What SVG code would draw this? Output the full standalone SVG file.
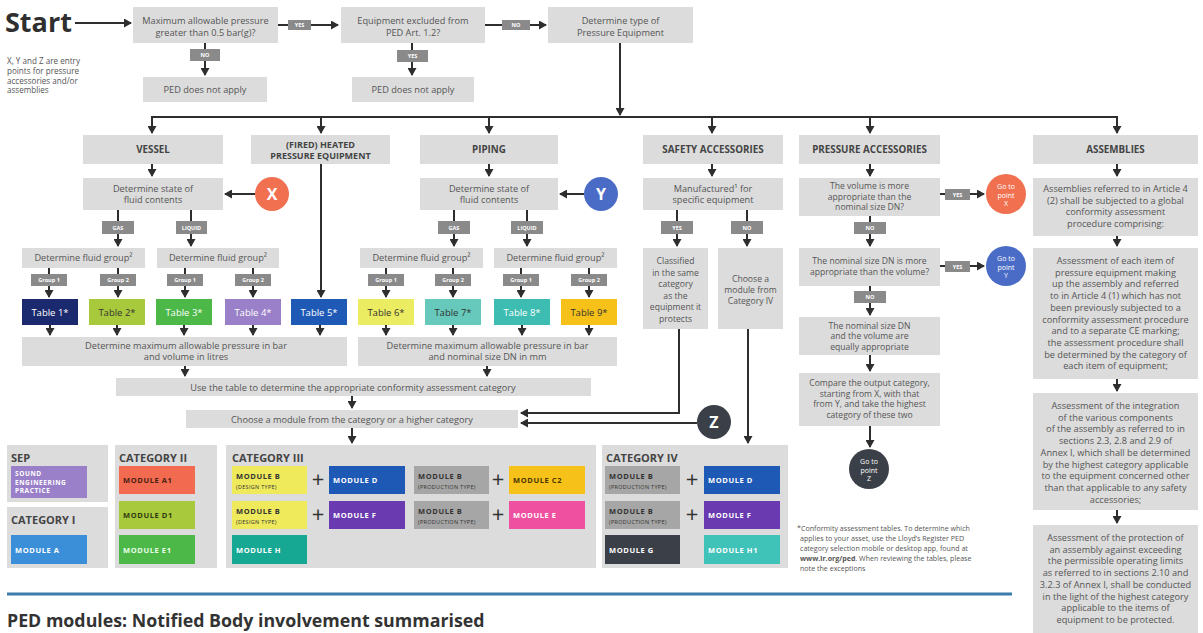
<svg xmlns="http://www.w3.org/2000/svg" width="1203" height="633" viewBox="0 0 1203 633">
<style>
text{font-family:"Open Sans","Liberation Sans",sans-serif}
.bx{fill:#dcdcdc}
.t{font-size:9.2px;fill:#555;text-anchor:middle}
.ts{font-size:8.6px;fill:#555;text-anchor:middle}
.h{font-size:9.8px;fill:#444;font-weight:bold;text-anchor:middle}
.lb{fill:#8a8a8a}
.lt{font-size:5.5px;fill:#fff;text-anchor:middle;font-weight:bold}
.tb{font-size:9.5px;text-anchor:middle}
.ln{stroke:#2e2e2e;stroke-width:2;fill:none}
.ar{stroke:#2e2e2e;stroke-width:2;fill:none;marker-end:url(#ah)}
.cat{font-size:11px;font-weight:bold;fill:#444}
.m{font-size:7.5px;font-weight:bold;letter-spacing:0.6px}
.ms{font-size:5.5px;letter-spacing:0.3px}
.pl{font-size:22px;fill:#333;text-anchor:middle}
.ct{font-size:16px;font-weight:bold;fill:#fff;text-anchor:middle}
.gt{font-size:7px;fill:#fff;text-anchor:middle}
.fn{font-size:7.1px;fill:#555}
</style>
<defs>
<marker id="ah" markerUnits="userSpaceOnUse" markerWidth="9" markerHeight="9" refX="7" refY="4.5" orient="auto">
<path d="M0,0 L8,4.5 L0,9 Z" fill="#2e2e2e"/>
</marker>
</defs>

<!-- connectors -->
<g id="connectors">
<line class="ar" x1="75" y1="23" x2="131" y2="23"/>
<line class="ar" x1="277" y1="25" x2="338" y2="25"/>
<line class="ar" x1="485" y1="25" x2="546" y2="25"/>
<line class="ar" x1="205" y1="43" x2="205" y2="75"/>
<line class="ar" x1="412" y1="43" x2="412" y2="75"/>
<line class="ar" x1="620" y1="43" x2="620" y2="115"/>
<line class="ln" x1="151" y1="117" x2="1118" y2="117"/>
<line class="ar" x1="152" y1="117" x2="152" y2="133"/>
<line class="ar" x1="321" y1="117" x2="321" y2="133"/>
<line class="ar" x1="489" y1="117" x2="489" y2="133"/>
<line class="ar" x1="712" y1="117" x2="712" y2="133"/>
<line class="ar" x1="870" y1="117" x2="870" y2="133"/>
<line class="ar" x1="1117" y1="117" x2="1117" y2="133"/>
<!-- vessel -->
<line class="ar" x1="152" y1="164" x2="152" y2="176"/>
<line class="ar" x1="255" y1="194" x2="225" y2="194"/>
<line class="ar" x1="118" y1="210" x2="118" y2="246"/>
<line class="ar" x1="191" y1="210" x2="191" y2="246"/>
<line class="ar" x1="49" y1="268" x2="49" y2="297"/>
<line class="ar" x1="118" y1="268" x2="118" y2="297"/>
<line class="ar" x1="185" y1="268" x2="185" y2="297"/>
<line class="ar" x1="253" y1="268" x2="253" y2="297"/>
<line class="ar" x1="321" y1="164" x2="321" y2="297"/>
<line class="ar" x1="50" y1="325" x2="50" y2="335"/>
<line class="ar" x1="117" y1="325" x2="117" y2="335"/>
<line class="ar" x1="184" y1="325" x2="184" y2="335"/>
<line class="ar" x1="253" y1="325" x2="253" y2="335"/>
<line class="ar" x1="320" y1="325" x2="320" y2="335"/>
<!-- piping -->
<line class="ar" x1="489" y1="164" x2="489" y2="176"/>
<line class="ar" x1="584" y1="194" x2="560" y2="194"/>
<line class="ar" x1="454" y1="210" x2="454" y2="246"/>
<line class="ar" x1="527" y1="210" x2="527" y2="246"/>
<line class="ar" x1="386" y1="268" x2="386" y2="297"/>
<line class="ar" x1="453" y1="268" x2="453" y2="297"/>
<line class="ar" x1="521" y1="268" x2="521" y2="297"/>
<line class="ar" x1="589" y1="268" x2="589" y2="297"/>
<line class="ar" x1="386" y1="325" x2="386" y2="335"/>
<line class="ar" x1="453" y1="325" x2="453" y2="335"/>
<line class="ar" x1="522" y1="325" x2="522" y2="335"/>
<line class="ar" x1="589" y1="325" x2="589" y2="335"/>
<line class="ar" x1="185" y1="366" x2="185" y2="376"/>
<line class="ar" x1="487" y1="366" x2="487" y2="376"/>
<line class="ar" x1="352" y1="396" x2="352" y2="408"/>
<line class="ar" x1="352" y1="428" x2="352" y2="443"/>
<!-- safety -->
<line class="ar" x1="712" y1="164" x2="712" y2="176"/>
<line class="ar" x1="677" y1="210" x2="677" y2="246"/>
<line class="ar" x1="747" y1="210" x2="747" y2="246"/>
<path class="ar" d="M679,329 V413 H521"/>
<line class="ar" x1="697" y1="423" x2="521" y2="423"/>
<line class="ar" x1="748" y1="329" x2="748" y2="443"/>
<!-- pressure accessories -->
<line class="ar" x1="870" y1="164" x2="870" y2="176"/>
<line class="ar" x1="940" y1="194" x2="984" y2="194"/>
<line class="ar" x1="870" y1="216" x2="870" y2="246"/>
<line class="ar" x1="940" y1="266" x2="984" y2="266"/>
<line class="ar" x1="870" y1="286" x2="870" y2="315"/>
<line class="ar" x1="870" y1="355" x2="870" y2="371"/>
<line class="ar" x1="870" y1="426" x2="870" y2="447"/>
<!-- assemblies -->
<line class="ar" x1="1117" y1="164" x2="1117" y2="176"/>
<line class="ar" x1="1117" y1="236" x2="1117" y2="246"/>
<line class="ar" x1="1117" y1="379" x2="1117" y2="391"/>
<line class="ar" x1="1117" y1="510" x2="1117" y2="523"/>
</g>

<!-- labels on connectors -->
<g id="labels">
<rect class="lb" x="288" y="20" width="23" height="10"/><text class="lt" x="299.5" y="27">YES</text>
<rect class="lb" x="502" y="20" width="28" height="10"/><text class="lt" x="516" y="27">NO</text>
<rect class="lb" x="190" y="49" width="30" height="12"/><text class="lt" x="205" y="57">NO</text>
<rect class="lb" x="397" y="50" width="31" height="12"/><text class="lt" x="412.5" y="58">YES</text>
<rect class="lb" x="102" y="221" width="32" height="13"/><text class="lt" x="118" y="229.5">GAS</text>
<rect class="lb" x="176" y="221" width="31" height="13"/><text class="lt" x="191.5" y="229.5">LIQUID</text>
<rect class="lb" x="31" y="274" width="36" height="12"/><text class="lt" x="49" y="282">Group 1</text>
<rect class="lb" x="100" y="274" width="36" height="12"/><text class="lt" x="118" y="282">Group 2</text>
<rect class="lb" x="167" y="274" width="36" height="12"/><text class="lt" x="185" y="282">Group 1</text>
<rect class="lb" x="235" y="274" width="36" height="12"/><text class="lt" x="253" y="282">Group 2</text>
<rect class="lb" x="438" y="221" width="32" height="13"/><text class="lt" x="454" y="229.5">GAS</text>
<rect class="lb" x="511" y="221" width="32" height="13"/><text class="lt" x="527" y="229.5">LIQUID</text>
<rect class="lb" x="368" y="274" width="36" height="12"/><text class="lt" x="386" y="282">Group 1</text>
<rect class="lb" x="435" y="274" width="36" height="12"/><text class="lt" x="453" y="282">Group 2</text>
<rect class="lb" x="503" y="274" width="36" height="12"/><text class="lt" x="521" y="282">Group 1</text>
<rect class="lb" x="571" y="274" width="36" height="12"/><text class="lt" x="589" y="282">Group 2</text>
<rect class="lb" x="661" y="221" width="32" height="13"/><text class="lt" x="677" y="229.5">YES</text>
<rect class="lb" x="731" y="221" width="32" height="13"/><text class="lt" x="747" y="229.5">NO</text>
<rect class="lb" x="854" y="222" width="32" height="12"/><text class="lt" x="870" y="230">NO</text>
<rect class="lb" x="945" y="189" width="25" height="11"/><text class="lt" x="957.5" y="196.5">YES</text>
<rect class="lb" x="945" y="261" width="25" height="11"/><text class="lt" x="957.5" y="268.5">YES</text>
<rect class="lb" x="854" y="291" width="32" height="12"/><text class="lt" x="870" y="299">NO</text>
</g>

<g id="start"><text x="5" y="32" font-size="27" font-weight="bold" fill="#2f2f2f">Start</text></g>
<g id="note"><text class="fn" style="font-size:8.1px"><tspan x="7" y="64">X, Y and Z are entry</tspan><tspan x="7" y="73.8">points for pressure</tspan><tspan x="7" y="83.6">accessories and/or</tspan><tspan x="7" y="93.4">assemblies</tspan></text></g>

<g id="q1"><rect class="bx" x="133" y="7" width="145" height="36"/><text class="t"><tspan x="205.5" y="24">Maximum allowable pressure</tspan><tspan x="205.5" y="36">greater than 0.5 bar(g)?</tspan></text></g>
<g id="q2"><rect class="bx" x="341" y="7" width="144" height="36"/><text class="t"><tspan x="413" y="24">Equipment excluded from</tspan><tspan x="413" y="36">PED Art. 1.2?</tspan></text></g>
<g id="q3"><rect class="bx" x="548" y="7" width="145" height="36"/><text class="t"><tspan x="620.5" y="24">Determine type of</tspan><tspan x="620.5" y="36">Pressure Equipment</tspan></text></g>
<g id="na1"><rect class="bx" x="143" y="77" width="124" height="25"/><text class="t" x="205" y="92.5">PED does not apply</text></g>
<g id="na2"><rect class="bx" x="352" y="77" width="122" height="25"/><text class="t" x="413" y="92.5">PED does not apply</text></g>

<!-- headers -->
<g id="vessel"><rect class="bx" x="83" y="135" width="140" height="29"/><text class="h" x="153" y="153">VESSEL</text></g>
<g id="fired"><rect class="bx" x="251" y="135" width="139" height="29"/><text class="h" style="font-size:9px"><tspan x="320.5" y="147.5">(FIRED) HEATED</tspan><tspan x="320.5" y="158.5">PRESSURE EQUIPMENT</tspan></text></g>
<g id="piping"><rect class="bx" x="420" y="135" width="138" height="29"/><text class="h" x="489" y="153">PIPING</text></g>
<g id="safety"><rect class="bx" x="643" y="135" width="140" height="29"/><text class="h" x="713" y="153">SAFETY ACCESSORIES</text></g>
<g id="pacc"><rect class="bx" x="799" y="135" width="141" height="29"/><text class="h" x="869.5" y="153">PRESSURE ACCESSORIES</text></g>
<g id="assemblies"><rect class="bx" x="1033" y="135" width="165" height="29"/><text class="h" x="1115.5" y="153">ASSEMBLIES</text></g>

<!-- vessel branch -->
<g id="vstate"><rect class="bx" x="83" y="178" width="140" height="32"/><text class="t"><tspan x="153" y="191.5">Determine state of</tspan><tspan x="153" y="203">fluid contents</tspan></text></g>
<g id="pointX"><circle cx="272" cy="194" r="17" fill="#f07050"/><text class="ct" x="272" y="200">X</text></g>
<g id="vfg1"><rect class="bx" x="22" y="248" width="123" height="20"/><text class="t" x="83.5" y="261">Determine fluid group²</text></g>
<g id="vfg2"><rect class="bx" x="157" y="248" width="122" height="20"/><text class="t" x="218" y="261">Determine fluid group²</text></g>
<g id="t1"><rect x="22" y="299" width="56" height="26" fill="#1b2a6e"/><text class="tb" x="50" y="315.5" fill="#fff">Table 1*</text></g>
<g id="t2"><rect x="89" y="299" width="56" height="26" fill="#a9c93d"/><text class="tb" x="117" y="315.5" fill="#333">Table 2*</text></g>
<g id="t3"><rect x="156" y="299" width="56" height="26" fill="#4cb848"/><text class="tb" x="184" y="315.5" fill="#fff">Table 3*</text></g>
<g id="t4"><rect x="225" y="299" width="56" height="26" fill="#9a80c8"/><text class="tb" x="253" y="315.5" fill="#fff">Table 4*</text></g>
<g id="t5"><rect x="291" y="299" width="56" height="26" fill="#1f59b6"/><text class="tb" x="319" y="315.5" fill="#fff">Table 5*</text></g>
<g id="vmax"><rect class="bx" x="22" y="337" width="325" height="29"/><text class="t"><tspan x="186" y="348.5">Determine maximum allowable pressure in bar</tspan><tspan x="186" y="360">and volume in litres</tspan></text></g>

<!-- piping branch -->
<g id="pstate"><rect class="bx" x="420" y="178" width="138" height="32"/><text class="t"><tspan x="489" y="191.5">Determine state of</tspan><tspan x="489" y="203">fluid contents</tspan></text></g>
<g id="pointY"><circle cx="601" cy="194" r="17" fill="#4a6cc6"/><text class="ct" x="601" y="200">Y</text></g>
<g id="pfg1"><rect class="bx" x="360" y="248" width="123" height="20"/><text class="t" x="421.5" y="261">Determine fluid group²</text></g>
<g id="pfg2"><rect class="bx" x="494" y="248" width="123" height="20"/><text class="t" x="555.5" y="261">Determine fluid group²</text></g>
<g id="t6"><rect x="358" y="299" width="56" height="26" fill="#ecec62"/><text class="tb" x="386" y="315.5" fill="#333">Table 6*</text></g>
<g id="t7"><rect x="425" y="299" width="56" height="26" fill="#66c9bb"/><text class="tb" x="453" y="315.5" fill="#333">Table 7*</text></g>
<g id="t8"><rect x="494" y="299" width="56" height="26" fill="#3dbdb1"/><text class="tb" x="522" y="315.5" fill="#fff">Table 8*</text></g>
<g id="t9"><rect x="561" y="299" width="56" height="26" fill="#f6c21a"/><text class="tb" x="589" y="315.5" fill="#333">Table 9*</text></g>
<g id="pmax"><rect class="bx" x="358" y="337" width="259" height="29"/><text class="t"><tspan x="487.5" y="348.5">Determine maximum allowable pressure in bar</tspan><tspan x="487.5" y="360">and nominal size DN in mm</tspan></text></g>

<g id="usetable"><rect class="bx" x="116" y="378" width="475" height="18"/><text class="t" x="353" y="390.5">Use the table to determine the appropriate conformity assessment category</text></g>
<g id="choose"><rect class="bx" x="186" y="410" width="332" height="18"/><text class="t" x="352" y="422.5">Choose a module from the category or a higher category</text></g>

<!-- safety branch -->
<g id="manuf"><rect class="bx" x="643" y="178" width="140" height="32"/><text class="t"><tspan x="713" y="191.5">Manufactured¹ for</tspan><tspan x="713" y="203">specific equipment</tspan></text></g>
<g id="classified"><rect class="bx" x="643" y="248" width="65" height="81"/><text class="ts"><tspan x="675.5" y="264">Classified</tspan><tspan x="675.5" y="275.5">in the same</tspan><tspan x="675.5" y="287">category</tspan><tspan x="675.5" y="298.5">as the</tspan><tspan x="675.5" y="310">equipment it</tspan><tspan x="675.5" y="321.5">protects</tspan></text></g>
<g id="chooseiv"><rect class="bx" x="718" y="248" width="65" height="81"/><text class="ts"><tspan x="750.5" y="282">Choose a</tspan><tspan x="750.5" y="293">module from</tspan><tspan x="750.5" y="304">Category IV</tspan></text></g>
<g id="pointZ"><circle cx="714" cy="422" r="17" fill="#3b3f48"/><text class="ct" x="714" y="428">Z</text></g>

<!-- pressure accessories branch -->
<g id="pa1"><rect class="bx" x="799" y="178" width="141" height="38"/><text class="ts"><tspan x="869.5" y="189">The volume is more</tspan><tspan x="869.5" y="199.5">appropriate than the</tspan><tspan x="869.5" y="210">nominal size DN?</tspan></text></g>
<g id="gox"><circle cx="1006" cy="194" r="20" fill="#f07050"/><text class="gt"><tspan x="1006" y="189">Go to</tspan><tspan x="1006" y="197.5">point</tspan><tspan x="1006" y="206">X</tspan></text></g>
<g id="pa2"><rect class="bx" x="799" y="248" width="141" height="38"/><text class="ts"><tspan x="869.5" y="264">The nominal size DN is more</tspan><tspan x="869.5" y="275">appropriate than the volume?</tspan></text></g>
<g id="goy"><circle cx="1006" cy="266" r="20" fill="#4a6cc6"/><text class="gt"><tspan x="1006" y="261">Go to</tspan><tspan x="1006" y="269.5">point</tspan><tspan x="1006" y="278">Y</tspan></text></g>
<g id="pa3"><rect class="bx" x="799" y="317" width="141" height="38"/><text class="ts"><tspan x="869.5" y="328.5">The nominal size DN</tspan><tspan x="869.5" y="339">and the volume are</tspan><tspan x="869.5" y="349.5">equally appropriate</tspan></text></g>
<g id="pa4"><rect class="bx" x="799" y="373" width="141" height="53"/><text class="ts"><tspan x="869.5" y="386">Compare the output category,</tspan><tspan x="869.5" y="396.5">starting from X, with that</tspan><tspan x="869.5" y="407">from Y, and take the highest</tspan><tspan x="869.5" y="417.5">category of these two</tspan></text></g>
<g id="goz"><circle cx="869" cy="469" r="20" fill="#3b3f48"/><text class="gt"><tspan x="869" y="464">Go to</tspan><tspan x="869" y="472.5">point</tspan><tspan x="869" y="481">Z</tspan></text></g>

<!-- assemblies branch -->
<g id="as1"><rect class="bx" x="1033" y="178" width="165" height="58"/><text class="t"><tspan x="1115.5" y="192">Assemblies referred to in Article 4</tspan><tspan x="1115.5" y="203.5">(2) shall be subjected to a global</tspan><tspan x="1115.5" y="215">conformity assessment</tspan><tspan x="1115.5" y="226.5">procedure comprising:</tspan></text></g>
<g id="as2"><rect class="bx" x="1033" y="248" width="165" height="131"/><text class="t"><tspan x="1115.5" y="264">Assessment of each item of</tspan><tspan x="1115.5" y="275.7">pressure equipment making</tspan><tspan x="1115.5" y="287.4">up the assembly and referred</tspan><tspan x="1115.5" y="299.1">to in Article 4 (1) which has not</tspan><tspan x="1115.5" y="310.8">been previously subjected to a</tspan><tspan x="1115.5" y="322.5">conformity assessment procedure</tspan><tspan x="1115.5" y="334.2">and to a separate CE marking;</tspan><tspan x="1115.5" y="345.9">the assessment procedure shall</tspan><tspan x="1115.5" y="357.6">be determined by the category of</tspan><tspan x="1115.5" y="369.3">each item of equipment;</tspan></text></g>
<g id="as3"><rect class="bx" x="1033" y="393" width="165" height="117"/><text class="t"><tspan x="1115.5" y="409">Assessment of the integration</tspan><tspan x="1115.5" y="420.7">of the various components</tspan><tspan x="1115.5" y="432.4">of the assembly as referred to in</tspan><tspan x="1115.5" y="444.1">sections 2.3, 2.8 and 2.9 of</tspan><tspan x="1115.5" y="455.8">Annex I, which shall be determined</tspan><tspan x="1115.5" y="467.5">by the highest category applicable</tspan><tspan x="1115.5" y="479.2">to the equipment concerned other</tspan><tspan x="1115.5" y="490.9">than that applicable to any safety</tspan><tspan x="1115.5" y="502.6">accessories;</tspan></text></g>
<g id="as4"><rect class="bx" x="1033" y="525" width="165" height="108"/><text class="t"><tspan x="1115.5" y="541">Assessment of the protection of</tspan><tspan x="1115.5" y="552.7">an assembly against exceeding</tspan><tspan x="1115.5" y="564.4">the permissible operating limits</tspan><tspan x="1115.5" y="576.1">as referred to in sections 2.10 and</tspan><tspan x="1115.5" y="587.8">3.2.3 of Annex I, shall be conducted</tspan><tspan x="1115.5" y="599.5">in the light of the highest category</tspan><tspan x="1115.5" y="611.2">applicable to the items of</tspan><tspan x="1115.5" y="622.9">equipment to be protected.</tspan></text></g>

<!-- categories -->
<g id="sep"><rect class="bx" x="7" y="445" width="101" height="57"/><text class="cat" x="11" y="462">SEP</text>
<rect x="11" y="466" width="76" height="32" fill="#9a80c8"/><text class="m" fill="#fff" style="font-size:6.5px"><tspan x="15" y="476">SOUND</tspan><tspan x="15" y="484.5">ENGINEERING</tspan><tspan x="15" y="493">PRACTICE</tspan></text></g>
<g id="cat1"><rect class="bx" x="7" y="507" width="101" height="61"/><text class="cat" x="11" y="524">CATEGORY I</text>
<rect x="11" y="535" width="76" height="29" fill="#3a8fd8"/><text class="m" x="15" y="552.5" fill="#fff">MODULE A</text></g>
<g id="cat2"><rect class="bx" x="115" y="445" width="102" height="123"/><text class="cat" x="119" y="462">CATEGORY II</text>
<rect x="119" y="466" width="76" height="28" fill="#f26b50"/><text class="m" x="123" y="483" fill="#4a1e12">MODULE A1</text>
<rect x="119" y="501" width="76" height="28" fill="#a9c93d"/><text class="m" x="123" y="518" fill="#2f3a10">MODULE D1</text>
<rect x="119" y="535" width="76" height="29" fill="#4cb848"/><text class="m" x="123" y="552.5" fill="#eaffea">MODULE E1</text></g>
<g id="cat3"><rect class="bx" x="226" y="445" width="370" height="123"/><text class="cat" x="232" y="462">CATEGORY III</text>
<rect x="232" y="466" width="75" height="28" fill="#eeea5c"/><text x="236" fill="#333"><tspan class="m" x="236" y="479">MODULE B</tspan><tspan class="ms" x="236" y="488.5">(DESIGN TYPE)</tspan></text>
<text class="pl" x="318" y="487">+</text>
<rect x="329" y="466" width="76" height="28" fill="#1f59b6"/><text class="m" x="333" y="483" fill="#fff">MODULE D</text>
<rect x="414" y="466" width="75" height="28" fill="#a6a6a6"/><text x="418" fill="#333"><tspan class="m" x="418" y="479">MODULE B</tspan><tspan class="ms" x="418" y="488.5">(PRODUCTION TYPE)</tspan></text>
<text class="pl" x="498" y="487">+</text>
<rect x="509" y="466" width="76" height="28" fill="#f6c21a"/><text class="m" x="513" y="483" fill="#4a3500">MODULE C2</text>
<rect x="232" y="501" width="75" height="28" fill="#eeea5c"/><text x="236" fill="#333"><tspan class="m" x="236" y="514">MODULE B</tspan><tspan class="ms" x="236" y="523.5">(DESIGN TYPE)</tspan></text>
<text class="pl" x="318" y="522">+</text>
<rect x="329" y="501" width="76" height="28" fill="#6a3ab0"/><text class="m" x="333" y="518" fill="#fff">MODULE F</text>
<rect x="414" y="501" width="75" height="28" fill="#a6a6a6"/><text x="418" fill="#333"><tspan class="m" x="418" y="514">MODULE B</tspan><tspan class="ms" x="418" y="523.5">(PRODUCTION TYPE)</tspan></text>
<text class="pl" x="498" y="522">+</text>
<rect x="509" y="501" width="76" height="28" fill="#ef509f"/><text class="m" x="513" y="518" fill="#fff">MODULE E</text>
<rect x="232" y="535" width="75" height="29" fill="#17a893"/><text class="m" x="236" y="552.5" fill="#fff">MODULE H</text></g>
<g id="cat4"><rect class="bx" x="602" y="445" width="186" height="123"/><text class="cat" x="606" y="462">CATEGORY IV</text>
<rect x="605" y="466" width="75" height="28" fill="#a6a6a6"/><text x="609" fill="#333"><tspan class="m" x="609" y="479">MODULE B</tspan><tspan class="ms" x="609" y="488.5">(PRODUCTION TYPE)</tspan></text>
<text class="pl" x="692" y="487">+</text>
<rect x="704" y="466" width="76" height="28" fill="#1f59b6"/><text class="m" x="708" y="483" fill="#fff">MODULE D</text>
<rect x="605" y="501" width="75" height="28" fill="#a6a6a6"/><text x="609" fill="#333"><tspan class="m" x="609" y="514">MODULE B</tspan><tspan class="ms" x="609" y="523.5">(PRODUCTION TYPE)</tspan></text>
<text class="pl" x="692" y="522">+</text>
<rect x="704" y="501" width="76" height="28" fill="#6a3ab0"/><text class="m" x="708" y="518" fill="#fff">MODULE F</text>
<rect x="605" y="535" width="75" height="29" fill="#3b3f48"/><text class="m" x="609" y="552.5" fill="#fff">MODULE G</text>
<rect x="704" y="535" width="76" height="29" fill="#3fc2b8"/><text class="m" x="708" y="552.5" fill="#fff">MODULE H1</text></g>

<g id="footnote"><text class="fn"><tspan x="797" y="531">*Conformity assessment tables. To determine which</tspan><tspan x="800" y="541">applies to your asset, use the Lloyd’s Register PED</tspan><tspan x="800" y="551">category selection mobile or desktop app, found at</tspan><tspan x="800" y="561"><tspan font-weight="bold">www.lr.org/ped</tspan>. When reviewing the tables, please</tspan><tspan x="800" y="571">note the exceptions</tspan></text></g>

<line x1="7" y1="594" x2="1012" y2="594" stroke="#3b7cab" stroke-width="3"/>
<text x="7" y="627" font-size="17.8" font-weight="bold" fill="#333">PED modules: Notified Body involvement summarised</text>
</svg>
